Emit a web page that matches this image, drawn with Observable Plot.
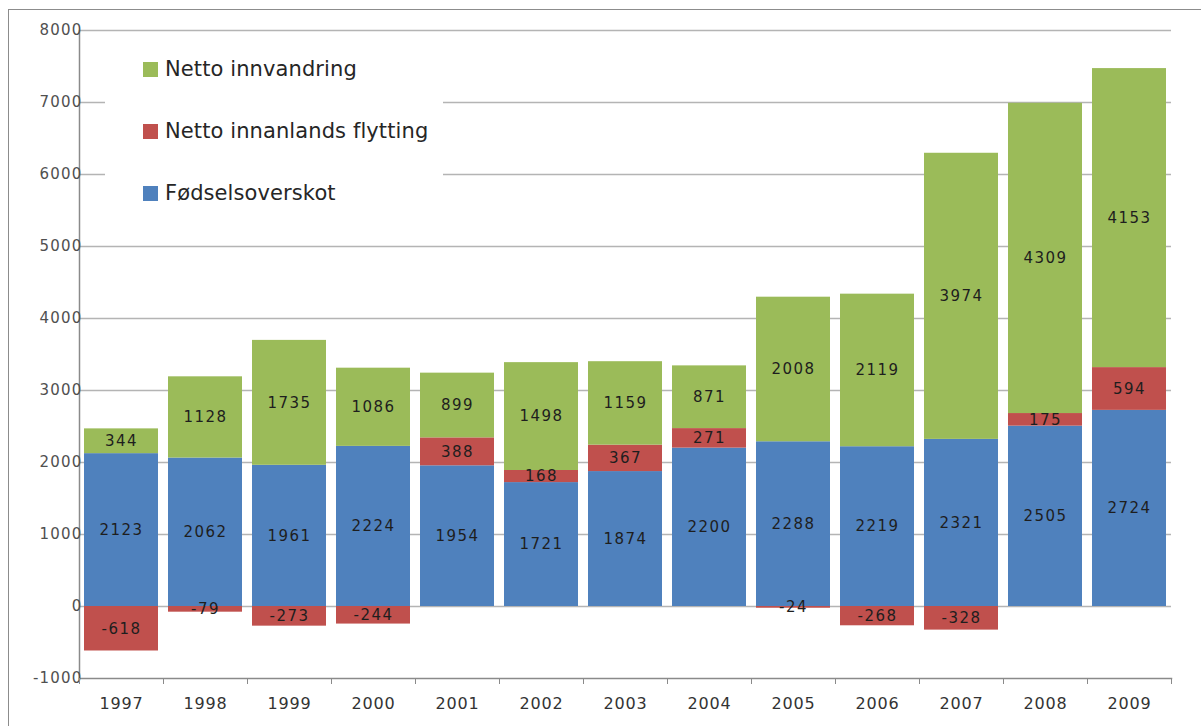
<!DOCTYPE html>
<html><head><meta charset="utf-8">
<script src="https://cdn.jsdelivr.net/npm/d3@7"></script>
<script src="https://cdn.jsdelivr.net/npm/@observablehq/plot@0.6"></script>
<style>
body{margin:0;background:#fff;}
#wrap{position:relative;width:1201px;height:726px;overflow:hidden;font-family:"DejaVu Sans",sans-serif;}
#frame{position:absolute;left:8px;top:9px;width:1300px;height:800px;border-left:1.5px solid #8c8c8c;border-top:1.5px solid #8c8c8c;pointer-events:none;}
#legend{position:absolute;left:105px;top:33px;width:338px;height:205px;background:#fff;overflow:hidden;white-space:nowrap;}
.item{position:absolute;left:38px;height:24px;margin-top:-12px;display:flex;align-items:center;font-size:21px;color:#262626;letter-spacing:0.1px;}
.sw{width:15px;height:15px;margin-right:7px;flex:none;}
</style></head>
<body><div id="wrap"><div id="frame"></div></div>
<script>
const years = ["1997","1998","1999","2000","2001","2002","2003","2004","2005","2006","2007","2008","2009"];
const fodselsoverskot = [2123, 2062, 1961, 2224, 1954, 1721, 1874, 2200, 2288, 2219, 2321, 2505, 2724];
const innanlands = [-618, -79, -273, -244, 388, 168, 367, 271, -24, -268, -328, 175, 594];
const innvandring = [344, 1128, 1735, 1086, 899, 1498, 1159, 871, 2008, 2119, 3974, 4309, 4153];
const seriesNames = ["Fødselsoverskot", "Netto innanlands flytting", "Netto innvandring"];
const seriesColors = ["#4F81BD", "#C0504D", "#9BBB59"];
const legendOrder = ["Netto innvandring", "Netto innanlands flytting", "Fødselsoverskot"];
const yTicks = [-1000, 0, 1000, 2000, 3000, 4000, 5000, 6000, 7000, 8000];

const seriesValues = [fodselsoverskot, innanlands, innvandring];
const rows = [];
years.forEach((yr, i) => {
  seriesNames.forEach((s, k) => rows.push({year: yr, series: s, value: seriesValues[k][i]}));
});

const plot = Plot.plot({
  width: 1201, height: 726,
  marginLeft: 79, marginRight: 30, marginTop: 30, marginBottom: 48,
  x: {type: "band", domain: years, paddingInner: 0.12, paddingOuter: 0.06, label: null},
  y: {domain: [-1000, 8000], label: null},
  color: {domain: seriesNames, range: seriesColors},
  style: {fontFamily: "DejaVu Sans", background: "transparent", overflow: "visible"},
  marks: [
    Plot.ruleY(yTicks.filter(v => v > -1000), {y: d => d, stroke: "#b4b4b4", strokeWidth: 1.5}),
    Plot.barY(rows, {x: "year", y: "value", z: "series", fill: "series"}),
    Plot.text(rows, Plot.stackY({x: "year", y: "value", z: "series", text: d => String(d.value), fill: "#1e1e1e", fontSize: 15})),
    Plot.frame({anchor: "left", stroke: "#8a8a8a", strokeWidth: 1.5}),
    Plot.frame({anchor: "bottom", stroke: "#8a8a8a", strokeWidth: 1.5}),
    Plot.axisY({ticks: yTicks, tickSize: 0, tickPadding: -3, fontSize: 15, fill: "#505050", tickFormat: d => String(d)}),
    Plot.axisX({tickSize: 0, tickPadding: 19, fontSize: 16, fill: "#333"}),
    Plot.axisX({tickSize: 6, dx: -42, tickFormat: () => "", stroke: "#8a8a8a"}),
    Plot.axisX({ticks: ["2009"], tickSize: 6, dx: 42, tickFormat: () => "", stroke: "#8a8a8a"})
  ]
});
d3.select(plot).selectAll('g[aria-label="text"] text').style("letter-spacing", "1.5px");
d3.select(plot).selectAll('g[aria-label="y-axis tick label"] text').style("letter-spacing", "1.2px");
d3.select(plot).selectAll('g[aria-label="x-axis tick label"] text').style("letter-spacing", "0.8px");

const wrap = document.getElementById("wrap");
wrap.insertBefore(plot, wrap.firstChild);

const legend = document.createElement("div");
legend.id = "legend";
const rowCenters = [36, 98, 160];
legendOrder.forEach((name, i) => {
  const it = document.createElement("div");
  it.className = "item";
  it.style.top = rowCenters[i] + "px";
  const sw = document.createElement("span");
  sw.className = "sw";
  sw.style.background = seriesColors[seriesNames.indexOf(name)];
  const t = document.createElement("span");
  t.textContent = name;
  it.appendChild(sw); it.appendChild(t);
  legend.appendChild(it);
});
wrap.appendChild(legend);
</script>
</body></html>
